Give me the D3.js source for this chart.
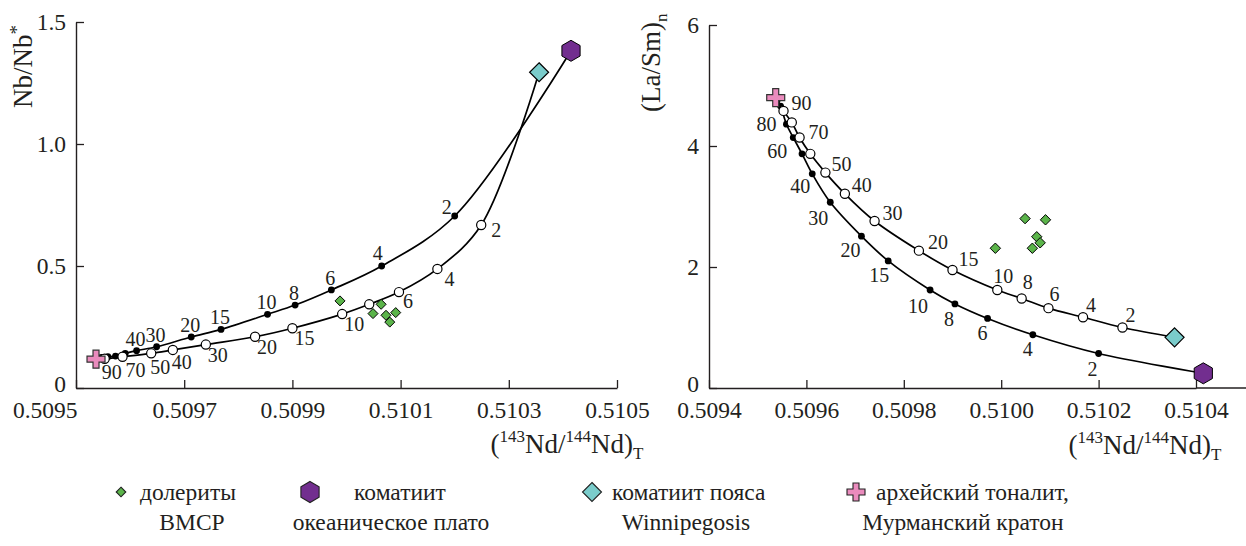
<!DOCTYPE html>
<html><head><meta charset="utf-8">
<script src="https://cdn.jsdelivr.net/npm/d3@7"></script>
<style>
body{margin:0;background:#fff}
svg{display:block}
text{font-family:"Liberation Serif","Times New Roman",serif;fill:#231f20}
</style>
</head><body>
<svg id="c" width="1246" height="546"></svg>
<script>
// ---------- data ----------
const mixLabels   = [90, 80, 70, 60, 50, 40, 30, 20, 15, 10, 8, 6, 4, 2];
// mixing curve A (filled dots) : tonalite -> oceanic plateau komatiite
const ndCurveA    = [0.509540,0.509547,0.509559,0.509573,0.509591,0.509612,0.509649,0.509713,0.509768,0.509854,0.509905,0.509972,0.510065,0.510200];
const nbCurveA    = [0.122,0.125,0.128,0.131,0.142,0.153,0.169,0.209,0.240,0.302,0.340,0.402,0.500,0.705];
const laSmCurveA  = [4.76,4.66,4.36,4.14,3.87,3.54,3.07,2.51,2.10,1.62,1.39,1.15,0.88,0.57];
// mixing curve B (open circles) : tonalite -> Winnipegosis komatiite
const ndCurveB    = [0.509553,0.509570,0.509586,0.509608,0.509639,0.509679,0.509740,0.509831,0.509900,0.509992,0.510042,0.510097,0.510168,0.510249];
const nbCurveB    = [0.120,null,0.128,null,0.142,0.156,0.178,0.210,0.245,0.303,0.343,0.393,0.488,0.668];
const laSmCurveB  = [4.58,4.39,4.14,3.87,3.56,3.21,2.76,2.27,1.95,1.62,1.48,1.32,1.17,1.00];
// labelled mixing proportions in each panel
const leftLabelsA  = [40,30,20,15,10,8,6,4,2];
const leftLabelsB  = [90,70,50,40,30,20,15,10,6,4,2];
const rightLabelsA = [80,60,40,30,20,15,10,8,6,4,2];
const rightLabelsB = [90,70,50,40,30,20,15,10,8,6,4,2];
// end members
const tonaliteNd = 0.509537, tonaliteNb = 0.118, tonaliteLaSm = 4.80;
const plateauNd  = 0.510415, plateauNb  = 1.382, plateauLaSm  = 0.243;
const winnipNd   = 0.510356, winnipNb   = 1.294, winnipLaSm   = 0.838;
// dolerites
const doleriteNd   = [0.509988,0.510049,0.510064,0.510073,0.510080,0.510091];
const doleriteNb   = [0.357,0.305,0.343,0.298,0.270,0.309];
const doleriteLaSm = [2.31,2.80,2.31,2.50,2.40,2.78];
// ticks
const leftXTicks  = [0.5095,0.5097,0.5099,0.5101,0.5103,0.5105];
const leftYTicks  = [0,0.5,1.0,1.5];
const leftYTickLabels = ["0","0.5","1.0","1.5"];
const rightXTicks = [0.5094,0.5096,0.5098,0.5100,0.5102,0.5104];
const rightYTicks = [0,2,4,6];
const legendLabels = [["долериты","ВМСР"],["коматиит","океаническое плато"],["коматиит пояса","Winnipegosis"],["архейский тоналит,","Мурманский кратон"]];

// ---------- layout (label offsets, px) ----------
const offLA = {2:[-8,-9],4:[-4,-13]}, defLA=[-1,-12];
const offLB = {2:[15,5],6:[9,9],40:[9,12],50:[9,14],70:[13,13],90:[7,13]}, defLB=[12,10];
const offRA = {80:[-14,18],60:[-16,13],40:[-12,12],30:[-12,16],20:[-11,14],15:[-9,14],10:[-12,16],8:[-6,15],6:[-5,15],4:[-5,14],2:[-6,15]}, defRA=[-10,15];
const offRB = {90:[18,-8],70:[19,-6],50:[16,-9],40:[17,-9],30:[18,-8],20:[19,-9],15:[16,-11],10:[6,-14],8:[6,-16],6:[6,-14],4:[8,-12],2:[8,-13]}, defRB=[12,-10];

const C = {green:"#5bb44a", purple:"#722e8f", cyan:"#7acccb", pink:"#ea8bbd", ink:"#231f20"};
const SERIF = "'Liberation Serif','Times New Roman',serif";
const svg = d3.select("#c");

// shapes
function hexPath(r){const p=d3.path();for(let k=0;k<6;k++){const a=(-90+60*k)*Math.PI/180;const x=r*Math.cos(a),y=r*Math.sin(a);k?p.lineTo(x,y):p.moveTo(x,y);}p.closePath();return p.toString();}
function diamondPath(h){return `M0,${-h}L${h},0L0,${h}L${-h},0Z`;}
function crossPath(a,w){const s=w/2;return `M${-s},${-a}H${s}V${-s}H${a}V${s}H${s}V${a}H${-s}V${s}H${-a}V${-s}H${-s}Z`;}

function ndTitle(g,x,y){
  const t=g.append("text").attr("x",x).attr("y",y).attr("text-anchor","middle").style("font-size","27px");
  t.append("tspan").text("(");
  t.append("tspan").attr("dy",-11).style("font-size","17px").text("143");
  t.append("tspan").attr("dy",11).text("Nd/");
  t.append("tspan").attr("dy",-11).style("font-size","17px").text("144");
  t.append("tspan").attr("dy",11).text("Nd)");
  t.append("tspan").attr("dy",6).style("font-size","17px").text("T");
}

function panel(opt){
  const g = svg.append("g");
  const x = opt.x, y = opt.y;
  // axes
  const ax = d3.axisBottom(x).tickValues(opt.xTicks).tickFormat(d3.format(".4f")).tickSizeInner(-8).tickSizeOuter(0).tickPadding(13);
  const gx = g.append("g").attr("transform",`translate(0,${y(0)})`).call(ax);
  const ay = d3.axisLeft(y).tickValues(opt.yTicks).tickFormat((d,i)=>opt.yLabels[i]).tickSizeInner(-8).tickSizeOuter(0).tickPadding(10);
  const gy = g.append("g").attr("transform",`translate(${x.range()[0]},0)`).call(ay);
  [gx,gy].forEach(a=>{
    a.attr("font-family",SERIF).attr("font-size",23);
    a.selectAll("path.domain").attr("stroke",C.ink).attr("stroke-width",1.4);
    a.selectAll(".tick line").attr("stroke",C.ink).attr("stroke-width",1.3);
    a.selectAll(".tick text").style("font-size","23.5px").style("font-family",SERIF).attr("fill",C.ink);
  });
  // lift the "0" label on the value axis a little so it clears the first x label
  gy.selectAll(".tick text").filter(d=>d===0).attr("dy","0.15em");
  if(opt.xExtend) g.append("line").attr("x1",x.range()[1]).attr("x2",opt.xExtend).attr("y1",y(0)).attr("y2",y(0)).attr("stroke",C.ink).attr("stroke-width",1.4);
  if(opt.firstXAnchorEnd) gx.select(".tick text").attr("text-anchor","end").attr("x",1);

  // curves
  const line = d3.line().x(d=>x(d[0])).y(d=>y(d[1])).curve(d3.curveCatmullRom.alpha(0.5));
  function curvePts(nd,vals,endNd,endV){
    const pts=[[tonaliteNd,opt.tonV]];
    nd.forEach((v,i)=>{if(vals[i]!=null)pts.push([v,vals[i]]);});
    pts.push([endNd,endV]);return pts;
  }
  g.append("path").attr("d",line(curvePts(ndCurveA,opt.valsA,plateauNd,opt.platV))).attr("fill","none").attr("stroke","#000").attr("stroke-width",1.7);
  g.append("path").attr("d",line(curvePts(ndCurveB,opt.valsB,winnipNd,opt.winV))).attr("fill","none").attr("stroke","#000").attr("stroke-width",1.7);

  // dots
  ndCurveA.forEach((v,i)=>{ if(opt.valsA[i]!=null) g.append("circle").attr("cx",x(v)).attr("cy",y(opt.valsA[i])).attr("r",3.4).attr("fill","#000"); });
  ndCurveB.forEach((v,i)=>{ if(opt.valsB[i]!=null) g.append("circle").attr("cx",x(v)).attr("cy",y(opt.valsB[i])).attr("r",4.6).attr("fill","#fff").attr("stroke","#000").attr("stroke-width",1.2); });

  // labels
  function labels(nd,vals,list,off,def){
    list.forEach(l=>{const i=mixLabels.indexOf(l); if(vals[i]==null) return; const o=off[l]||def;
      g.append("text").attr("x",x(nd[i])+o[0]).attr("y",y(vals[i])+o[1]).attr("dy","0.35em").attr("text-anchor","middle").style("font-size","20px").attr("fill","#333").text(l);});
  }
  labels(ndCurveA,opt.valsA,opt.labA,opt.offA,opt.defA);
  labels(ndCurveB,opt.valsB,opt.labB,opt.offB,opt.defB);

  // dolerites
  doleriteNd.forEach((v,i)=>g.append("path").attr("d",diamondPath(opt.dolSize)).attr("transform",`translate(${x(v)},${y(opt.dolV[i])})`).attr("fill",C.green).attr("stroke","#000").attr("stroke-width",1));
  // end members
  g.append("path").attr("d",hexPath(10.5)).attr("transform",`translate(${x(plateauNd)},${y(opt.platV)})`).attr("fill",C.purple).attr("stroke","#000").attr("stroke-width",1);
  g.append("path").attr("d",diamondPath(9.5)).attr("transform",`translate(${x(winnipNd)},${y(opt.winV)})`).attr("fill",C.cyan).attr("stroke","#000").attr("stroke-width",1.2);
  g.append("path").attr("d",crossPath(9,6)).attr("transform",`translate(${x(tonaliteNd)},${y(opt.tonV)})`).attr("fill",C.pink).attr("stroke","#333").attr("stroke-width",1.2);
  return g;
}

// left panel
const xL = d3.scaleLinear().domain([0.5095,0.5105]).range([76,617]);
const yL = d3.scaleLinear().domain([0,1.5]).range([388,22]);
const gL = panel({x:xL,y:yL,xTicks:leftXTicks,yTicks:leftYTicks,yLabels:leftYTickLabels,valsA:nbCurveA,valsB:nbCurveB,
  tonV:tonaliteNb,platV:plateauNb,winV:winnipNb,dolV:doleriteNb,dolSize:5,labA:leftLabelsA,labB:leftLabelsB,
  offA:offLA,defA:defLA,offB:offLB,defB:defLB,firstXAnchorEnd:true});
ndTitle(gL,567,453);
const tl = gL.append("text").attr("transform","translate(32,108) rotate(-90)").attr("text-anchor","start").style("font-size","27px");
tl.append("tspan").text("Nb/Nb");
tl.append("tspan").attr("dy",-9).style("font-size","19px").text("*");

// right panel
const xR = d3.scaleLinear().domain([0.5094,0.5104]).range([709,1196]);
const yR = d3.scaleLinear().domain([0,6]).range([388,25]);
const gR = panel({x:xR,y:yR,xTicks:rightXTicks,yTicks:rightYTicks,yLabels:rightYTicks.map(String),valsA:laSmCurveA,valsB:laSmCurveB,
  tonV:tonaliteLaSm,platV:plateauLaSm,winV:winnipLaSm,dolV:doleriteLaSm,dolSize:5.2,labA:rightLabelsA,labB:rightLabelsB,
  offA:offRA,defA:defRA,offB:offRB,defB:defRB,xExtend:1246});
ndTitle(gR,1145,454);
const tr = gR.append("text").attr("transform","translate(660,112) rotate(-90)").attr("text-anchor","start").style("font-size","27px");
tr.append("tspan").text("(La/Sm)");
tr.append("tspan").attr("dy",7).style("font-size","17px").text("n");

// legend
const lg = svg.append("g").style("font-size","23.5px");
const legendMarkers = [
  {x:121, d:diamondPath(4.8), fill:C.green, t1:140, a1:"start", t2:192},
  {x:310, d:hexPath(10.5), fill:C.purple, t1:400, a1:"middle", t2:391},
  {x:592, d:diamondPath(9.5), fill:C.cyan, t1:612, a1:"start", t2:686},
  {x:856, d:crossPath(9,6), fill:C.pink, t1:876, a1:"start", t2:963}
];
legendMarkers.forEach((m,i)=>{
  lg.append("path").attr("d",m.d).attr("transform",`translate(${m.x},492)`).attr("fill",m.fill).attr("stroke","#222").attr("stroke-width",1.1);
  lg.append("text").attr("x",m.t1).attr("y",500).attr("text-anchor",m.a1).text(legendLabels[i][0]);
  lg.append("text").attr("x",m.t2).attr("y",530).attr("text-anchor","middle").text(legendLabels[i][1]);
});
</script>
</body></html>
